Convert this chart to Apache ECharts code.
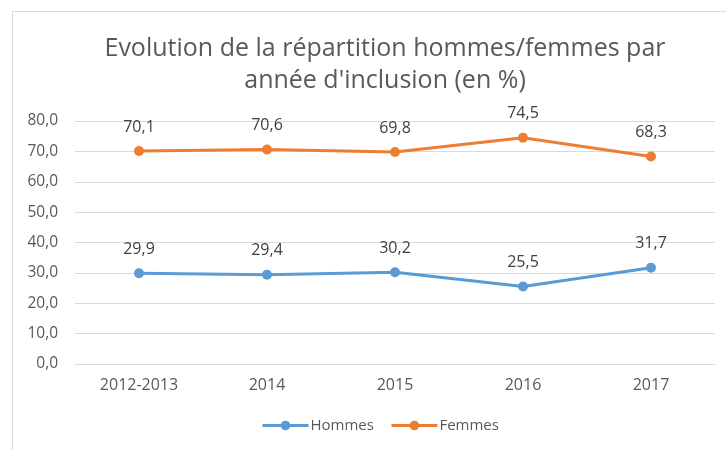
<!DOCTYPE html>
<html><head><meta charset="utf-8">
<script src="https://cdn.jsdelivr.net/npm/echarts@6/dist/echarts.min.js"></script>
<style>html,body{margin:0;padding:0;background:#fff}#c{width:726px;height:450px}</style>
</head><body><div id="c"></div>
<script>
const categories = ['2012-2013','2014','2015','2016','2017'];
const hommes = [29.9, 29.4, 30.2, 25.5, 31.7];
const femmes = [70.1, 70.6, 69.8, 74.5, 68.3];
const titleText = "Evolution de la répartition hommes/femmes par\nannée d'inclusion (en %)";
const fmt = v => v.toFixed(1).replace('.', ',');
const chart = echarts.init(document.getElementById('c'));
const font = "'Open Sans', sans-serif";
function lineSeries(name, data, color) {
  return {
    name, type: 'line', data, color,
    symbol: 'circle', symbolSize: 10,
    lineStyle: { width: 3, color },
    itemStyle: { color },
    label: { show: true, position: 'top', distance: 11, color: '#404040', fontSize: 16, fontFamily: font,
      formatter: p => fmt(p.value) },
    animation: false
  };
}
chart.setOption({
  animation: false,
  backgroundColor: '#fff',
  graphic: [{ type: 'rect', shape: { x: 12.5, y: 11.5, width: 720, height: 450 },
    style: { fill: 'none', stroke: '#d9d9d9', lineWidth: 1 } }],
  title: { text: titleText, left: 380, top: 28, textAlign: 'center',
    textStyle: { fontFamily: font, fontSize: 25, fontWeight: 'normal', color: '#595959', lineHeight: 32 } },
  grid: { left: 75, right: 11, top: 121, bottom: 86, containLabel: false },
  legend: { bottom: 12, left: 256, itemWidth: 46, itemHeight: 12, itemGap: 16,
    lineStyle: { width: 3 },
    textStyle: { fontFamily: font, fontSize: 15, color: '#595959', padding: [0, 0, 0, -3] },
    data: ['Hommes', 'Femmes'] },
  xAxis: { type: 'category', data: categories, boundaryGap: true,
    axisLine: { show: true, lineStyle: { color: '#d9d9d9' } }, axisTick: { show: false },
    axisLabel: { fontFamily: font, fontSize: 16, color: '#595959', margin: 13 } },
  yAxis: { type: 'value', min: 0, max: 80, interval: 10,
    axisLine: { show: false }, axisTick: { show: false },
    splitLine: { lineStyle: { color: '#d9d9d9' } },
    axisLabel: { fontFamily: font, fontSize: 15.5, color: '#595959', margin: 17, formatter: v => fmt(v) } },
  series: [lineSeries('Hommes', hommes, '#5B9BD5'), lineSeries('Femmes', femmes, '#ED7D31')]
});
</script></body></html>
